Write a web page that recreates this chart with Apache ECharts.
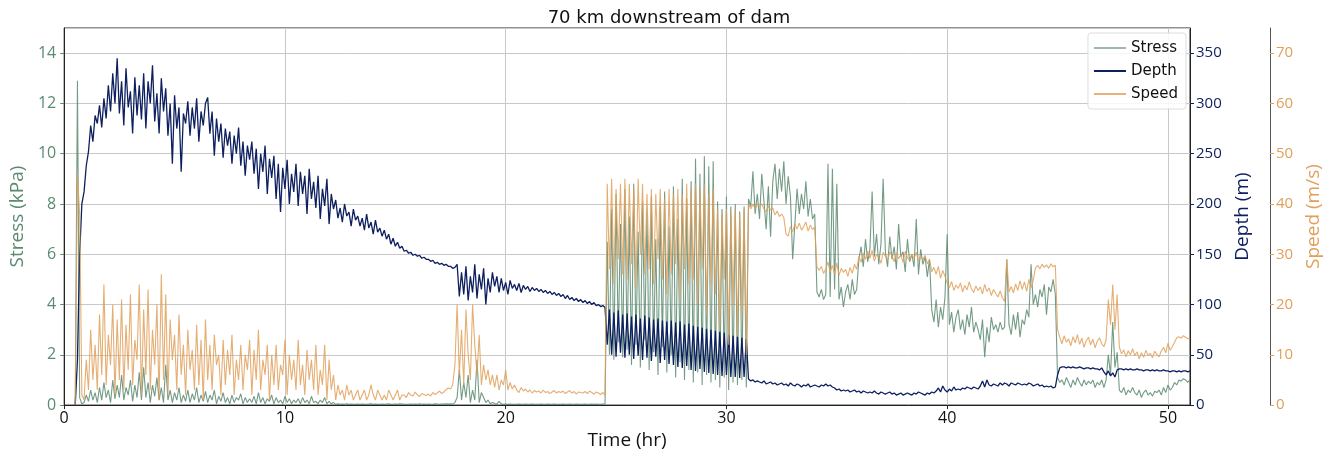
<!DOCTYPE html>
<html>
<head>
<meta charset="utf-8">
<title>70 km downstream of dam</title>
<script src="https://cdn.jsdelivr.net/npm/echarts@6/dist/echarts.min.js"></script>
<style>
  html, body { margin: 0; padding: 0; background: #fff; }
  #chart { width: 1338px; height: 455px; }
</style>
</head>
<body>
<div id="chart"></div>
<script>
// sampling of the record: first sample at 0.5 hr, one every 0.1 hr
const t0 = 0.5
const dt = 0.1

// shear stress (kPa), one row per hour
const stress = [
  0, 12.9, 0.3, 0.05, 0.1, 0.4, 0.15, 0.6, 0.2, 0.5,
  0.1, 0.7, 0.2, 0.9, 0.3, 0.6, 0.1, 1.0, 0.25, 0.8,
  0.3, 1.2, 0.2, 0.7, 0.4, 1.0, 0.15, 0.8, 0.3, 1.3,
  0.2, 1.5, 0.3, 0.9, 0.1, 0.8, 0.35, 1.1, 0.2, 0.7,
  0.1, 1.6, 0.2, 0.6, 0.1, 0.5, 0.2, 0.7, 0.1, 0.4,
  0.15, 0.6, 0.1, 0.45, 0.2, 0.7, 0.1, 0.4, 0.15, 0.55,
  0.1, 0.4, 0.2, 0.6, 0.05, 0.35, 0.15, 0.5, 0.1, 0.3,
  0.05, 0.4, 0.1, 0.3, 0.2, 0.45, 0.05, 0.3, 0.1, 0.25,
  0.1, 0.35, 0.05, 0.5, 0.1, 0.3, 0.05, 0.25, 0.15, 0.4,
  0.05, 0.3, 0.1, 0.2, 0.05, 0.35, 0.1, 0.25, 0.05, 0.2,
  0.1, 0.25, 0.05, 0.3, 0.1, 0.2, 0.05, 0.35, 0.1, 0.15,
  0.05, 0.2, 0.1, 0.3, 0.05, 0.15, 0.05, 0.1, 0.03, 0.05,
  0.03, 0.04, 0.03, 0.05, 0.03, 0.04, 0.03, 0.03, 0.04, 0.03,
  0.04, 0.03, 0.03, 0.04, 0.05, 0.03, 0.04, 0.03, 0.03, 0.04,
  0.03, 0.04, 0.05, 0.03, 0.03, 0.04, 0.03, 0.05, 0.04, 0.03,
  0.03, 0.03, 0.04, 0.03, 0.04, 0.03, 0.05, 0.03, 0.04, 0.03,
  0.04, 0.03, 0.03, 0.05, 0.04, 0.03, 0.04, 0.04, 0.05, 0.04,
  0.05, 0.04, 0.1, 0.3, 1.4, 0.2, 0.9, 0.3, 1.2, 0.1,
  0.6, 0.2, 1.8, 0.1, 0.5, 0.3, 0.1, 0.2, 0.05, 0.1,
  0.06, 0.04, 0.15, 0.05, 0.03, 0.04, 0.03, 0.04, 0.03, 0.03,
  0.03, 0.04, 0.03, 0.03, 0.04, 0.03, 0.03, 0.04, 0.03, 0.03,
  0.03, 0.04, 0.03, 0.03, 0.04, 0.03, 0.03, 0.04, 0.03, 0.03,
  0.03, 0.04, 0.03, 0.03, 0.04, 0.03, 0.03, 0.04, 0.03, 0.03,
  0.03, 0.04, 0.03, 0.03, 0.04, 0.03, 0.04, 0.03, 0.03, 0.04,
  0.05, 6.5, 2.0, 7.8, 1.8, 8.4, 2.5, 7.2, 1.9, 8.6,
  2.2, 7.5, 1.6, 8.8, 2.4, 6.9, 1.5, 8.1, 2.6, 7.7,
  1.4, 8.3, 2.1, 6.6, 1.2, 7.9, 2.3, 8.5, 1.3, 7.1,
  2.0, 8.7, 1.1, 7.4, 1.7, 9.0, 1.0, 8.2, 1.4, 8.9,
  0.9, 9.8, 1.3, 9.2, 0.8, 9.9, 1.2, 9.5, 0.9, 9.7,
  1.0, 8.1, 0.7, 7.8, 1.1, 8.3, 0.6, 7.9, 0.9, 8.0,
  0.8, 7.7, 1.0, 7.9, 0.7, 8.2, 7.9, 9.3, 7.6, 8.4,
  7.4, 9.2, 8.1, 7.0, 8.7, 6.7, 8.9, 9.6, 8.2, 9.4,
  8.5, 9.7, 8.0, 9.1, 8.3, 5.8, 7.2, 8.6, 7.6, 8.4,
  7.8, 8.9, 7.5, 8.2, 7.4, 7.6, 4.5, 4.3, 4.6, 4.2,
  4.4, 9.6, 4.3, 9.4, 4.6, 8.8, 4.2, 4.7, 3.9, 4.5,
  4.8, 4.2, 5.0, 4.4, 4.6, 5.8, 6.3, 5.5, 6.6, 5.7,
  6.2, 8.5, 5.9, 6.8, 5.6, 6.4, 9.0, 6.1, 5.5, 6.7,
  5.8, 6.3, 5.4, 7.2, 5.9, 6.1, 5.3, 6.6, 5.7, 6.0,
  5.5, 7.4, 5.2, 6.2, 5.6, 5.9, 5.1, 5.8, 3.8, 3.3,
  4.2, 3.1, 3.9, 3.4, 4.3, 6.8, 3.2, 3.7, 2.9, 3.5,
  3.8, 3.0, 3.4, 2.8, 3.6, 3.1, 3.9, 2.9, 3.3, 3.0,
  2.6, 3.4, 1.9, 3.1, 2.5, 3.5, 3.0, 3.2, 2.9, 3.3,
  3.0, 3.1, 5.8, 3.2, 2.8, 3.6, 3.0, 3.7, 2.7, 3.4,
  3.2, 3.8, 3.5, 5.6, 4.0, 4.4, 3.9, 4.6, 4.3, 4.8,
  3.6, 4.7, 4.5, 5.0, 4.4, 1.1, 0.9, 1.0, 0.8, 1.1,
  0.9, 0.7, 1.0, 0.8, 1.1, 0.9, 0.75, 1.0, 0.8, 0.95,
  0.85, 1.0, 0.7, 0.9, 0.8, 1.0, 0.7, 1.0, 2.0, 1.2,
  3.3, 1.5, 2.1, 0.6, 0.5, 0.7, 0.4, 0.6, 0.5, 0.7,
  0.5, 0.4, 0.6, 0.3, 0.5, 0.6, 0.4, 0.5, 0.35, 0.55,
  0.5, 0.6, 0.4, 0.7, 0.5, 0.8, 0.6, 0.7, 0.9, 0.8,
  1.0, 0.95, 1.05, 1.0, 0.9, 1.0
]

// flow depth (m)
const depth = [
  0, 45, 150, 200, 212, 238, 252, 278, 262, 288,
  280, 298, 276, 305, 285, 318, 292, 330, 300, 345,
  290, 322, 278, 335, 296, 312, 270, 326, 288, 318,
  284, 330, 275, 322, 300, 338, 282, 310, 270, 325,
  292, 315, 268, 300, 240, 308, 275, 296, 232, 290,
  280, 302, 268, 296, 275, 305, 262, 292, 278, 300,
  306, 270, 292, 248, 285, 262, 280, 246, 275, 258,
  272, 240, 268, 250, 276, 238, 262, 228, 258, 244,
  262, 230, 255, 215, 250, 232, 258, 210, 245, 226,
  248, 205, 240, 192, 236, 215, 244, 200, 230, 212,
  240, 198, 232, 210, 228, 190, 235, 205, 222, 196,
  228, 185, 215, 198, 225, 180, 210, 195, 204, 186,
  196, 182, 200, 188, 192, 178, 195, 184, 188, 178,
  186, 174, 190, 176, 182, 170, 184, 172, 176, 168,
  174, 165, 170, 160, 166, 158, 162, 156, 158, 153,
  154, 151, 152, 149, 150, 148, 149, 146, 147, 145,
  145, 143, 144, 141, 142, 140, 141, 139, 140, 138,
  138, 136, 137, 140, 108, 132, 110, 138, 104, 128,
  112, 140, 106, 130, 115, 136, 100, 126, 112, 132,
  118, 128, 112, 126, 114, 122, 110, 124, 116, 120,
  114, 121, 112, 119, 115, 118, 113, 117, 114, 116,
  113, 115, 112, 114, 111, 113, 110, 112, 109, 111,
  108, 110, 106, 109, 105, 107, 104, 106, 103, 105,
  102, 104, 101, 103, 100, 102, 99, 100, 98, 99,
  97, 60, 95, 50, 92, 48, 94, 52, 90, 47,
  91, 50, 88, 46, 90, 49, 86, 45, 89, 47,
  87, 44, 85, 48, 86, 42, 84, 45, 83, 41,
  84, 40, 82, 38, 83, 37, 80, 39, 81, 35,
  79, 34, 78, 36, 77, 33, 76, 32, 75, 31,
  74, 30, 73, 29, 72, 30, 70, 28, 69, 28,
  68, 27, 67, 28, 66, 26, 24, 25, 23, 24,
  23, 22, 24, 21, 22, 23, 21, 22, 20, 21,
  22, 20, 21, 19, 22, 20, 19, 21, 20, 18,
  20, 19, 21, 18, 19, 20, 19, 18, 20, 19,
  21, 19, 20, 18, 17, 15, 16, 14, 15, 14,
  15, 13, 14, 15, 13, 14, 12, 14, 13, 12,
  13, 12, 14, 12, 11, 13, 12, 11, 12, 13,
  11, 12, 10, 11, 12, 10, 11, 12, 11, 10,
  12, 11, 13, 12, 11, 10, 12, 11, 13, 12,
  14, 17, 13, 19, 15, 13, 16, 14, 18, 15,
  16, 15, 17, 16, 18, 17, 16, 18, 17, 16,
  19, 24, 18, 25, 20, 19, 21, 20, 19, 22,
  20, 22, 21, 19, 22, 21, 20, 22, 21, 20,
  21, 20, 22, 21, 19, 20, 21, 19, 20, 18,
  19, 18, 19, 17, 18, 30, 37, 38, 38, 37,
  38, 37, 38, 37, 37, 38, 37, 36, 37, 37,
  36, 37, 36, 36, 35, 37, 33, 30, 34, 29,
  32, 28, 35, 36, 36, 35, 36, 35, 36, 35,
  35, 36, 35, 35, 34, 35, 35, 34, 35, 34,
  35, 34, 34, 35, 34, 34, 33, 34, 34, 33,
  34, 33, 34, 34, 33, 34
]

// flow speed (m/s)
const speed = [
  0, 46, 38, 2, 1, 9, 3, 15, 5, 12,
  3, 18, 6, 24, 4, 14, 8, 20, 2, 17,
  5, 21, 3, 16, 7, 22, 4, 13, 9, 24,
  2, 19, 6, 23, 3, 15, 8, 20, 1, 26,
  5, 22, 2, 17, 9, 14, 3, 18, 6, 12,
  2, 15, 7, 11, 3, 16, 4, 13, 1, 17,
  5, 12, 3, 14, 8, 10, 2, 13, 4, 11,
  6, 14, 2, 9, 5, 12, 3, 10, 7, 13,
  2, 11, 5, 15, 3, 9, 6, 12, 1, 10,
  4, 12, 3, 8, 6, 13, 2, 10, 5, 9,
  3, 13, 4, 8, 2, 11, 5, 9, 3, 12,
  2, 7, 4, 12, 1, 9, 3, 6, 1, 4,
  2, 3, 1, 4, 2, 3, 1, 2, 3, 1,
  2, 3, 1, 2, 4, 2, 1, 3, 2, 1,
  2, 1, 3, 2, 1, 2, 3, 1, 2, 2,
  1.5, 2.5, 2, 1.8, 2.6, 2, 1.7, 2.3, 2.1, 1.9,
  2.2, 1.8, 2.5, 2.1, 2.4, 2.8, 2.3, 2.6, 3.1, 3.4,
  3.2, 4, 8, 20, 6, 15, 4, 19, 10, 5,
  20, 12, 6, 14, 4, 8, 5, 7, 4, 6,
  3.5, 6, 3, 5, 4, 7, 3, 4.5, 3.2, 4,
  3, 2.5, 3.5, 2.8, 3.2, 2.6, 3, 2.4, 2.9, 2.6,
  2.8, 2.4, 3, 2.5, 2.7, 2.3, 2.6, 2.9, 2.4, 2.7,
  2.5, 2.8, 2.3, 2.6, 2.9, 2.4, 2.7, 2.2, 2.6, 2.5,
  2.4, 2.7, 2.3, 2.8, 2.5, 2.2, 2.6, 2.4, 2.1, 2.5,
  2, 44, 27, 45, 24, 43, 29, 44, 26, 45,
  25, 44, 28, 43, 23, 45, 30, 44, 26, 42,
  27, 43, 24, 42, 29, 43, 25, 41, 22, 43,
  26, 42, 28, 43, 21, 42, 27, 44, 24, 43,
  25, 44, 20, 43, 27, 44, 18, 42, 24, 43,
  22, 39, 15, 38, 25, 39, 12, 38, 20, 39,
  14, 38, 18, 39, 10, 40, 39, 40, 39, 40,
  39.5, 40, 39, 38.5, 39.6, 38.8, 39.2, 37.8, 38.6, 37.5,
  38, 37.3, 34, 33.6, 35.5, 34.5, 36, 35, 36.2, 34.8,
  35.5, 36.4, 34.6, 35.8, 34.9, 35.4, 27.5, 26.8, 27.6, 26.2,
  27, 28.5, 26.5, 27.8, 26, 28.3, 25.8, 27.2, 26.4, 27,
  25.6, 27.4, 26.2, 28, 27, 29.6, 28.4, 30.2, 29, 30.6,
  29.2, 30.8, 28.6, 30, 29.4, 28.2, 30.4, 29.6, 28.8, 30.5,
  29.8, 28.5, 30.3, 29.1, 29.9, 28.4, 30.6, 29.3, 28.7, 30,
  29.2, 30.4, 28.6, 29.5, 28.9, 29.8, 28.1, 29, 26.5, 27.4,
  26, 27.6, 25.2, 26.8, 25.6, 24.2, 23.4, 24.6, 22.8, 23.9,
  23.2, 24.3, 22.5, 23.8, 22.9, 24.5, 23.1, 22.4, 23.7, 22.8,
  23.5, 22.1, 24, 22.6, 23.3, 21.8, 23, 22.2, 21.5, 22.7,
  21.4, 20.6, 29, 22.5, 23.6, 22.3, 24.1, 22.8, 24.7, 23,
  24.5, 22.6, 25, 23.3, 24.8, 27.3, 27.8, 27.1, 28, 27.4,
  27.9, 27.2, 28.1, 27.5, 27.8, 15, 13.5, 12.2, 13.8, 12.5,
  13.2, 11.8, 13.6, 12.4, 14, 12.1, 13.3, 11.5, 12.8, 13.5,
  12, 13.1, 11.4, 12.7, 13.4, 12.2, 11.6, 13, 21, 16,
  24, 15, 22, 11.5, 10.2, 11, 9.6, 10.8, 10, 11.2,
  9.8, 10.6, 9.2, 10.4, 9.5, 10.9, 9.9, 10.3, 9.4, 10.7,
  10.1, 9.6, 10.8, 11.5, 10.4, 12.3, 10.9, 11.6, 12.5, 13.4,
  13.6, 13.3, 13.8, 13.5, 13.2, 13.4
]

const stressColor = '#5a8a70'
const depthColor = '#0d1f5e'
const speedColor = '#e0a05a'
const axisFont = 'Open Sans'

// pair each value with its sample time
const withTime = (arr) => arr.map((v, i) => [+(t0 + i * dt).toFixed(2), v])

const option = {
  animation: false,
  backgroundColor: '#fff',
  title: {
    text: '70 km downstream of dam',
    left: 'center',
    top: 4,
    textStyle: { fontFamily: 'DejaVu Sans', fontSize: 18, fontWeight: 'normal', color: '#111' }
  },
  grid: {
    left: 62, right: 148, top: 28, bottom: 45,
    show: true, borderColor: '#222', borderWidth: 1
  },
  legend: {
    orient: 'vertical',
    right: 152,
    top: 33,
    padding: [7, 8, 7, 6],
    itemGap: 7,
    itemWidth: 32,
    itemHeight: 2,
    icon: 'rect',
    backgroundColor: 'rgba(255,255,255,0.85)',
    borderColor: '#ddd',
    borderWidth: 1,
    borderRadius: 3,
    textStyle: { fontFamily: 'DejaVu Sans', fontSize: 15, color: '#111', lineHeight: 16 },
    data: ['Stress', 'Depth', 'Speed']
  },
  xAxis: {
    type: 'value',
    min: 0, max: 51, interval: 10,
    name: 'Time (hr)',
    nameLocation: 'middle',
    nameGap: 22,
    nameTextStyle: { fontFamily: axisFont, fontSize: 19, color: '#111' },
    axisLine: { lineStyle: { color: '#222' } },
    axisTick: { length: 4, lineStyle: { color: '#222' } },
    axisLabel: { fontFamily: axisFont, fontSize: 16, color: '#111', margin: 5, showMaxLabel: false },
    splitLine: { show: true, lineStyle: { color: '#c8c8c8' } }
  },
  yAxis: [
    {
      type: 'value',
      min: 0, max: 15, interval: 2,
      name: 'Stress (kPa)',
      nameLocation: 'middle',
      nameGap: 36,
      nameTextStyle: { fontFamily: axisFont, fontSize: 19, color: stressColor },
      axisLine: { show: true, lineStyle: { color: '#222' } },
      axisTick: { show: true, length: 4, lineStyle: { color: stressColor } },
      axisLabel: { fontFamily: axisFont, fontSize: 16, color: stressColor, margin: 8, showMaxLabel: false },
      splitLine: { show: true, lineStyle: { color: '#c8c8c8' } }
    },
    {
      type: 'value',
      position: 'right',
      min: 0, max: 375, interval: 50,
      name: 'Depth (m)',
      nameLocation: 'middle',
      nameGap: 42,
      nameTextStyle: { fontFamily: axisFont, fontSize: 19, color: depthColor },
      axisLine: { show: true, lineStyle: { color: '#222' } },
      axisTick: { show: true, length: 4, lineStyle: { color: depthColor } },
      axisLabel: { fontFamily: axisFont, fontSize: 15, color: depthColor, margin: 6, showMaxLabel: false },
      splitLine: { show: false }
    },
    {
      type: 'value',
      position: 'right',
      offset: 80,
      min: 0, max: 75, interval: 10,
      name: 'Speed (m/s)',
      nameLocation: 'middle',
      nameGap: 33,
      nameTextStyle: { fontFamily: axisFont, fontSize: 19, color: speedColor },
      axisLine: { show: true, lineStyle: { color: '#555' } },
      axisTick: { show: true, length: 4, lineStyle: { color: speedColor } },
      axisLabel: { fontFamily: axisFont, fontSize: 15, color: speedColor, margin: 6, showMaxLabel: false },
      splitLine: { show: false }
    }
  ],
  series: [
    {
      name: 'Stress', type: 'line', yAxisIndex: 0, symbol: 'none',
      data: withTime(stress),
      lineStyle: { color: stressColor, width: 1.1, opacity: 0.85 },
      itemStyle: { color: stressColor, opacity: 0.6 }
    },
    {
      name: 'Depth', type: 'line', yAxisIndex: 1, symbol: 'none',
      data: withTime(depth),
      lineStyle: { color: depthColor, width: 1.3 },
      itemStyle: { color: depthColor }
    },
    {
      name: 'Speed', type: 'line', yAxisIndex: 2, symbol: 'none',
      data: withTime(speed),
      lineStyle: { color: speedColor, width: 1.1, opacity: 0.85 },
      itemStyle: { color: speedColor, opacity: 0.8 }
    }
  ]
}

const chart = echarts.init(document.getElementById('chart'))
chart.setOption(option)
</script>
</body>
</html>
